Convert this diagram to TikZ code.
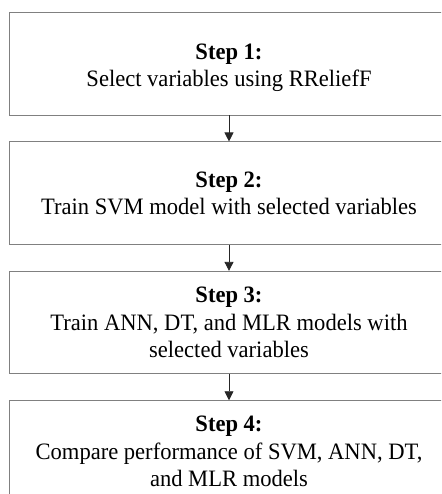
\documentclass[tikz,border=0pt]{standalone}
\usepackage{fontspec}
\setmainfont{Liberation Serif}[FakeStretch=0.96]
\usetikzlibrary{arrows.meta,positioning}

\tikzset{
  stepbox/.style={draw=gray, line width=0.9pt, minimum width=439.5pt,
    minimum height=102.5pt, inner sep=0pt},
  steptext/.style={align=center, font=\fontsize{23.5}{27.5}\selectfont,
    anchor=south, text depth=0pt, inner sep=0pt},
  flow/.style={-{Triangle[length=9pt,width=9pt]}, line width=0.8pt, draw=black!85}
}

\begin{document}
\begin{tikzpicture}[x=1pt,y=1pt]
\useasboundingbox (0,0) rectangle (441,-494);
\clip (0,0) rectangle (441,-494);

% the four boxes
\node[stepbox] (s1) at (229,-63.75) {};
\node[stepbox, below=26pt of s1] (s2) {};
\node[stepbox, below=26pt of s2] (s3) {};
\node[stepbox, below=26pt of s3] (s4) {};

% labels sit on the last baseline
\node[steptext] (t1) at ([yshift=28.5pt]s1.south) {\textbf{Step 1:}\\Select variables using RReliefF};
\node[steptext] (t2) at ([yshift=30pt]s2.south) {\textbf{Step 2:}\\Train SVM model with selected variables};
\node[steptext] (t3) at ([yshift=16.3pt]s3.south) {\textbf{Step 3:}\\Train ANN, DT, and MLR models with\\selected variables};
\node[steptext] (t4) at ([yshift=16.5pt]s4.south) {\textbf{Step 4:}\\Compare performance of SVM, ANN, DT,\\and MLR models};

\draw[flow] (s1) -- (s2);
\draw[flow] (s2) -- (s3);
\draw[flow] (s3) -- (s4);
\end{tikzpicture}
\end{document}
